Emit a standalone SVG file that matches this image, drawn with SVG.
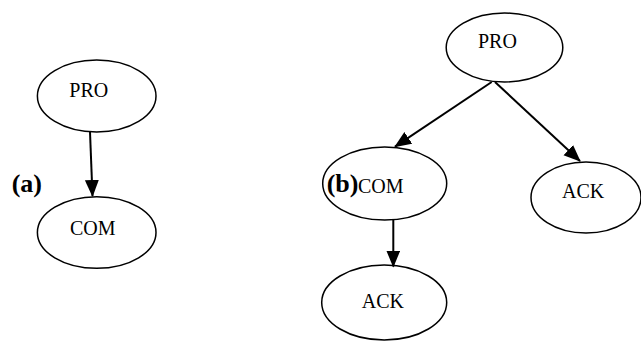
<svg xmlns="http://www.w3.org/2000/svg" width="641" height="341" viewBox="0 0 641 341">
<style>
.n ellipse{fill:#fff;stroke:#000;stroke-width:1.5}
.n text{font-family:"Liberation Serif","Times New Roman",serif;font-size:20px;fill:#000}
.lbl{font-family:"Liberation Serif","Times New Roman",serif;font-size:26px;font-weight:bold;fill:#000}
.e line{stroke:#000;stroke-width:2;marker-end:url(#ah)}
</style>
<defs>
<marker id="ah" markerUnits="userSpaceOnUse" markerWidth="18" markerHeight="16" refX="16" refY="7" orient="auto" viewBox="0 0 18 16">
<path d="M0,0 L17,7 L0,14 Z" fill="#000"/>
</marker>
</defs>
<rect width="641" height="341" fill="#fff"/>
<g id="a-pro" class="n"><ellipse cx="96.7" cy="96" rx="59.3" ry="36"/><text x="69.3" y="97.3">PRO</text></g>
<g id="a-com" class="n"><ellipse cx="96.7" cy="232.5" rx="59.3" ry="35.8"/><text x="70" y="235">COM</text></g>
<g id="b-pro" class="n"><ellipse cx="504.5" cy="47.5" rx="58.3" ry="34.5"/><text x="478" y="48.3">PRO</text></g>
<g id="b-com" class="n"><ellipse cx="384.7" cy="183.5" rx="62" ry="36.5"/><text x="358" y="193">COM</text></g>
<g id="b-ack1" class="n"><ellipse cx="586" cy="197.5" rx="55" ry="35.5"/><text x="562" y="198.3">ACK</text></g>
<g id="b-ack2" class="n"><ellipse cx="384.2" cy="302.5" rx="62.5" ry="37.5"/><text x="361.7" y="308.3">ACK</text></g>
<g id="edges" class="e">
<line x1="90" y1="132" x2="92.5" y2="196"/>
<line x1="491.7" y1="82" x2="395" y2="146.7"/>
<line x1="495" y1="82" x2="580" y2="161"/>
<line x1="393.3" y1="220" x2="393.3" y2="266.5"/>
</g>
<text class="lbl" x="11.7" y="191.7">(a)</text>
<text class="lbl" x="326.7" y="192">(b)</text>
</svg>
